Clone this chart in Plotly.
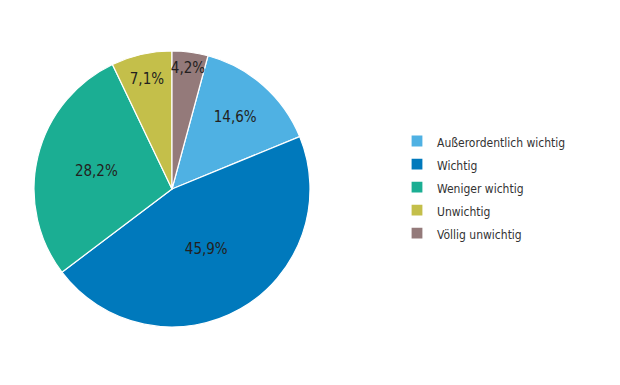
import plotly.graph_objects as go

categories = ["Außerordentlich wichtig", "Wichtig", "Weniger wichtig", "Unwichtig", "Völlig unwichtig"]
values = [14.6, 45.9, 28.2, 7.1, 4.2]
colors = ["#4FB1E3", "#0079BC", "#1BAE93", "#C4BF4A", "#947A7A"]

FONT = "DejaVu Sans Condensed, Liberation Sans Narrow, Arial Narrow, sans-serif"

# the last slice (Völlig unwichtig) starts at 12 o'clock, so the first slice is rotated by its share
start_rotation = values[-1] / sum(values) * 360

legend_labels = ['<span style="font-size:12px">%s</span>' % c for c in categories]

fig = go.Figure(go.Pie(
    labels=legend_labels,
    values=values,
    sort=False,
    direction="clockwise",
    rotation=start_rotation,
    marker=dict(colors=colors, line=dict(color="white", width=1.2)),
    texttemplate="%{value:.1f}%",
    textposition="inside",
    insidetextorientation="horizontal",
    textfont=dict(family=FONT, size=15, color="#231f20"),
    domain=dict(x=[26/620, 302/620], y=[1 - 319/385, 1 - 43/385]),
    hovertext=categories,
    hoverinfo="text+percent",
))

fig.update_layout(
    width=620, height=385,
    margin=dict(l=0, r=0, t=0, b=0),
    paper_bgcolor="white",
    plot_bgcolor="white",
    separators=",.",
    uniformtext=dict(minsize=15, mode="show"),
    font=dict(family=FONT, size=12, color="#231f20"),
    legend=dict(
        x=389/620, y=1 - 179.5/385, xanchor="left", yanchor="middle",
        font=dict(family=FONT, size=15.4, color="#333333"),
        bgcolor="rgba(0,0,0,0)",
    ),
)

fig.write_html("out.html")
